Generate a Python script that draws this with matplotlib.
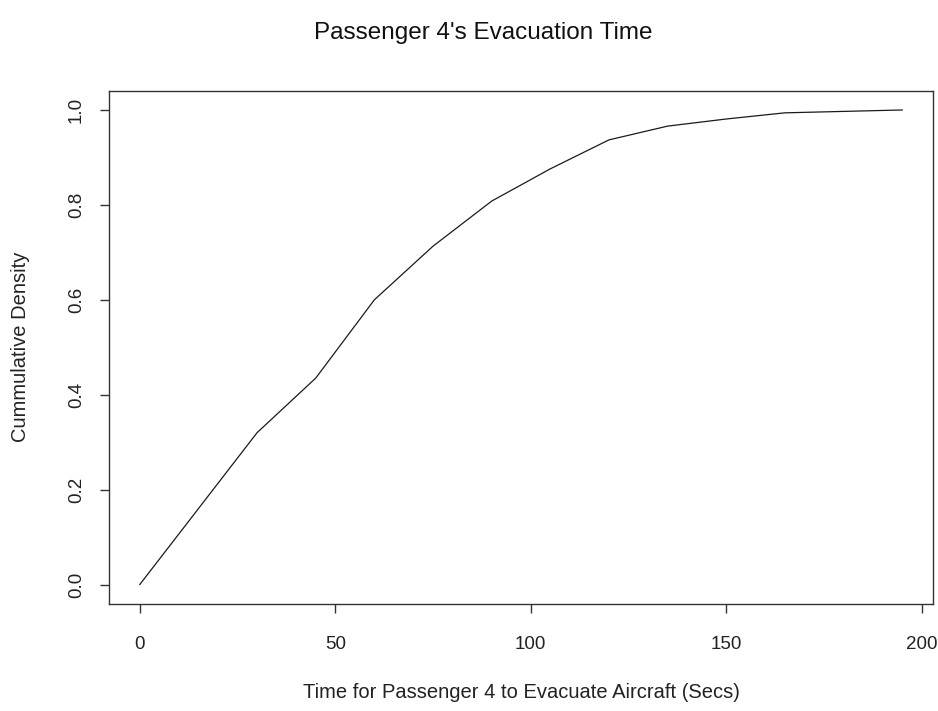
import matplotlib
matplotlib.use("Agg")
import matplotlib.pyplot as plt

# evacuation time (secs) and cumulative density
times = [0, 15, 30, 45, 60, 75, 90, 105, 120, 135, 150, 165, 180, 195]
cum_density = [0.0, 0.16, 0.32, 0.435, 0.60, 0.713, 0.808, 0.876,
               0.937, 0.966, 0.981, 0.994, 0.997, 1.0]

x_ticks = [0, 50, 100, 150, 200]
y_ticks = [0.0, 0.2, 0.4, 0.6, 0.8, 1.0]

plt.rcParams['font.family'] = ['Liberation Sans', 'DejaVu Sans']

W, H = 938, 711
fig = plt.figure(figsize=(W / 100, H / 100), dpi=100)
# plot box in pixels: left 109, right 933, top 91, bottom 604
left, right, top, bottom = 109.3, 932.7, 91.0, 603.5
ax = fig.add_axes([left / W, (H - bottom) / H, (right - left) / W, (bottom - top) / H])

ax.plot(times, cum_density, color='#1a1a1a', lw=0.9)

# R style 4% padding around the data range
xr = max(times) - min(times)
ax.set_xlim(min(times) - 0.04 * xr, max(times) + 0.04 * xr)
ax.set_ylim(-0.04, 1.04)

ax.set_xticks(x_ticks)
ax.set_xticklabels([str(t) for t in x_ticks])
ax.set_yticks(y_ticks)
ax.set_yticklabels([f'{t:.1f}' for t in y_ticks], rotation=90, va='center')

ax.tick_params(axis='both', direction='out', length=6.5, width=1, color='#333333',
               labelsize=13.5, labelcolor='#222222')
ax.tick_params(axis='x', pad=17)
ax.tick_params(axis='y', pad=11)

for s in ax.spines.values():
    s.set_color('#333333')
    s.set_linewidth(1)

ax.set_xlabel('Time for Passenger 4 to Evacuate Aircraft (Secs)', fontsize=14.5, color='#222222')
ax.set_ylabel('Cummulative Density', fontsize=14.5, color='#222222')
ax.xaxis.set_label_coords(0.5, (bottom - 693) / (bottom - top))
ax.xaxis.label.set_va('center')
ax.yaxis.set_label_coords((20 - left) / (right - left), 0.5)
ax.yaxis.label.set_va('center')

fig.text(483 / W, 1 - 33 / H, "Passenger 4's Evacuation Time",
         ha='center', va='center', fontsize=17.5, color='#111111')

fig.savefig('out.png', dpi=100, facecolor='white')
